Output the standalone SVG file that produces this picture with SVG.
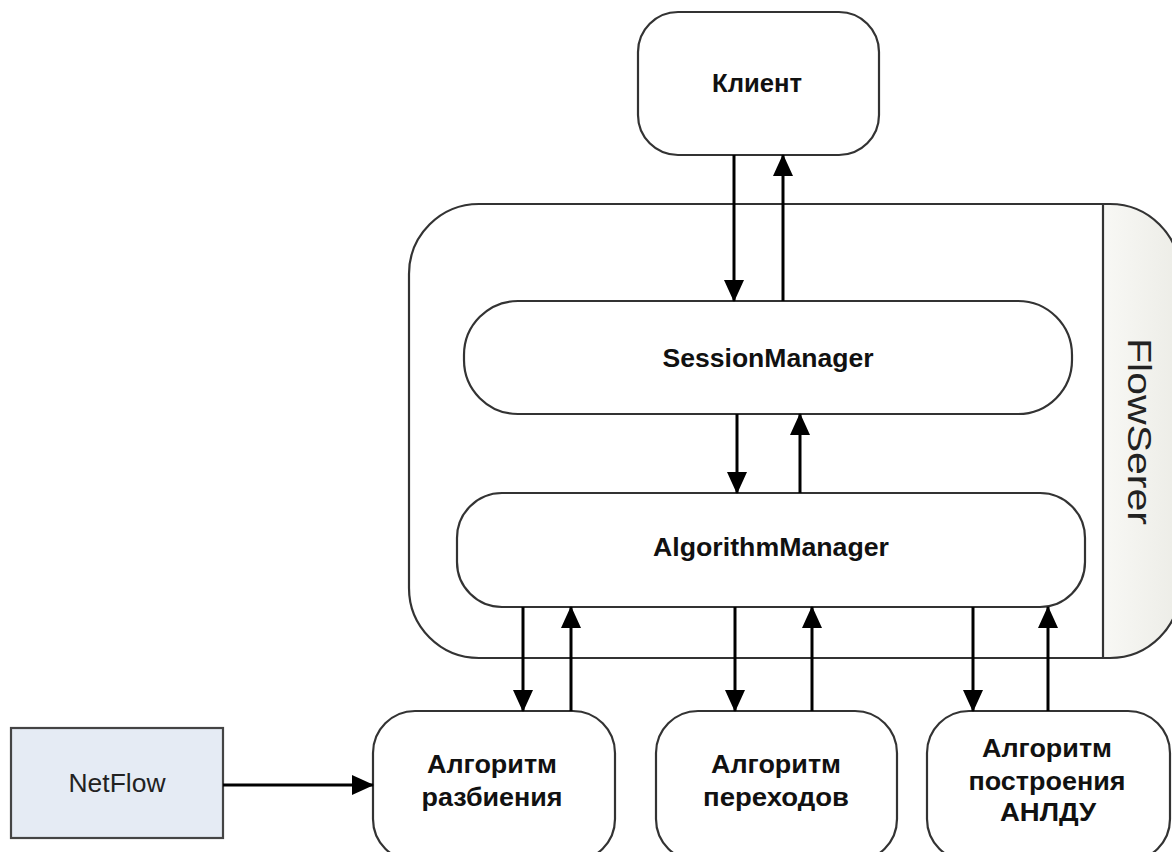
<svg xmlns="http://www.w3.org/2000/svg" width="1172" height="852" viewBox="0 0 1172 852">
  <defs>
    <marker id="arrow" markerUnits="userSpaceOnUse" markerWidth="22" markerHeight="20" refX="21" refY="10" orient="auto">
      <path d="M0,0 L22,10 L0,20 z" fill="#000"/>
    </marker>
    <linearGradient id="strip" x1="0" y1="0" x2="1" y2="0">
      <stop offset="0" stop-color="#f8f8f5"/>
      <stop offset="1" stop-color="#ececE6"/>
    </linearGradient>
    <clipPath id="outerClip">
      <rect x="409" y="204" width="771" height="454" rx="70" ry="70"/>
    </clipPath>
    <style>
      .box { fill: #fff; stroke: #333; stroke-width: 2.2; }
      .lbl { font-family: "Liberation Sans", Arial, sans-serif; font-weight: bold; font-size: 25px; fill: #111; text-anchor: middle; }
      .plain { font-family: "Liberation Sans", Arial, sans-serif; font-size: 25px; fill: #222; text-anchor: middle; }
      .conn { stroke: #000; stroke-width: 3; fill: none; marker-end: url(#arrow); }
    </style>
  </defs>

  <rect width="1172" height="852" fill="#fff"/>

  <!-- FlowSerer container with its title strip -->
  <g id="flowserver">
    <rect x="409" y="204" width="771" height="454" rx="70" ry="70" fill="#fff"/>
    <rect x="1103" y="204" width="80" height="454" fill="url(#strip)" clip-path="url(#outerClip)"/>
    <line x1="1103" y1="204" x2="1103" y2="658" stroke="#333" stroke-width="2.2"/>
    <rect x="409" y="204" width="771" height="454" rx="70" ry="70" fill="none" stroke="#333" stroke-width="2.2"/>
    <text class="plain" transform="translate(1128,431.5) rotate(90)" textLength="187" lengthAdjust="spacingAndGlyphs" style="font-size:34px">FlowSerer</text>
  </g>

  <g id="client">
    <rect class="box" x="638" y="12" width="241" height="143" rx="40" ry="40"/>
    <text class="lbl" x="757" y="92" textLength="90" lengthAdjust="spacingAndGlyphs">Клиент</text>
  </g>

  <g id="session-manager">
    <rect class="box" x="464" y="301" width="608" height="113" rx="54" ry="54"/>
    <text class="lbl" x="768" y="367" textLength="211" lengthAdjust="spacingAndGlyphs">SessionManager</text>
  </g>

  <g id="algorithm-manager">
    <rect class="box" x="457" y="493" width="628" height="114" rx="45" ry="45"/>
    <text class="lbl" x="771" y="556" textLength="236" lengthAdjust="spacingAndGlyphs">AlgorithmManager</text>
  </g>

  <g id="netflow">
    <rect x="11" y="728" width="212" height="110" fill="#e5ebf4" stroke="#444" stroke-width="2.2"/>
    <text class="plain" x="117" y="792" textLength="97" lengthAdjust="spacingAndGlyphs">NetFlow</text>
  </g>

  <g id="alg-split">
    <rect class="box" x="373" y="711" width="242" height="150" rx="42" ry="42"/>
    <text class="lbl" x="492" y="773" textLength="130" lengthAdjust="spacingAndGlyphs">Алгоритм</text>
    <text class="lbl" x="492" y="806" textLength="141" lengthAdjust="spacingAndGlyphs">разбиения</text>
  </g>

  <g id="alg-transitions">
    <rect class="box" x="656" y="711" width="241" height="150" rx="42" ry="42"/>
    <text class="lbl" x="776" y="773" textLength="130" lengthAdjust="spacingAndGlyphs">Алгоритм</text>
    <text class="lbl" x="776" y="806" textLength="146" lengthAdjust="spacingAndGlyphs">переходов</text>
  </g>

  <g id="alg-anldu">
    <rect class="box" x="927" y="711" width="243" height="150" rx="42" ry="42"/>
    <text class="lbl" x="1047" y="757" textLength="130" lengthAdjust="spacingAndGlyphs">Алгоритм</text>
    <text class="lbl" x="1047" y="790" textLength="157" lengthAdjust="spacingAndGlyphs">построения</text>
    <text class="lbl" x="1048" y="821" textLength="96" lengthAdjust="spacingAndGlyphs">АНЛДУ</text>
  </g>

  <g id="connectors">
    <line class="conn" x1="734" y1="155" x2="734" y2="301"/>
    <line class="conn" x1="783" y1="301" x2="783" y2="155"/>
    <line class="conn" x1="737" y1="414" x2="737" y2="493"/>
    <line class="conn" x1="800" y1="493" x2="800" y2="414"/>
    <line class="conn" x1="523" y1="607" x2="523" y2="711"/>
    <line class="conn" x1="571" y1="711" x2="571" y2="607"/>
    <line class="conn" x1="735" y1="607" x2="735" y2="711"/>
    <line class="conn" x1="812" y1="711" x2="812" y2="607"/>
    <line class="conn" x1="973" y1="607" x2="973" y2="711"/>
    <line class="conn" x1="1048" y1="711" x2="1048" y2="607"/>
    <line class="conn" x1="223" y1="785" x2="373" y2="785"/>
  </g>
</svg>
